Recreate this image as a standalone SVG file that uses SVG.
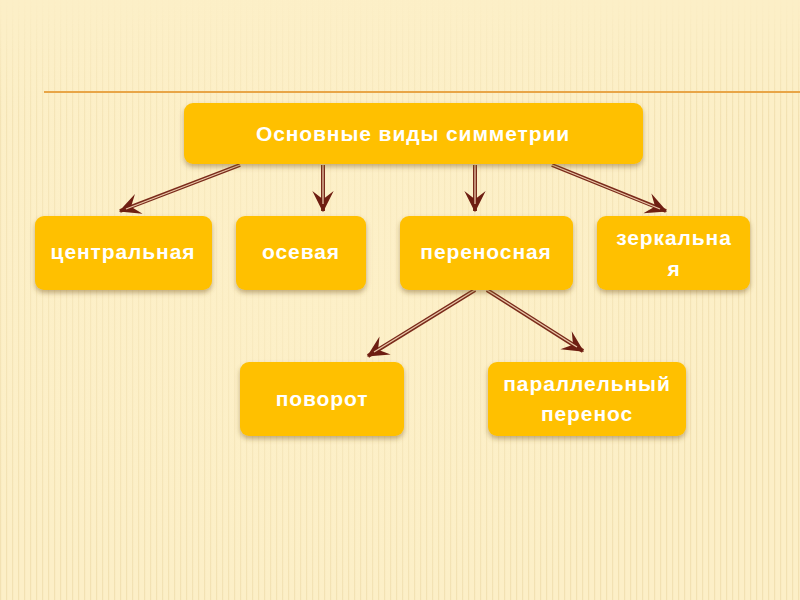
<svg xmlns="http://www.w3.org/2000/svg" width="800" height="600" viewBox="0 0 800 600">
<defs>
<style>
.box{fill:#FFC000;filter:url(#sh)}
.t{font-family:"Liberation Sans",Arial,sans-serif;font-weight:bold;font-size:21px;fill:#FFFFFF;text-anchor:middle;letter-spacing:0.9px}
.ao{fill:none;stroke:#7A2A1A;stroke-width:4}
.ai{fill:none;stroke:#E9C7A8;stroke-width:1.3}
</style>
<filter id="sh" x="-10%" y="-20%" width="120%" height="150%">
<feDropShadow dx="0" dy="3" stdDeviation="2.5" flood-color="#7A5A20" flood-opacity="0.45"/>
</filter>
<marker id="ah" markerUnits="userSpaceOnUse" markerWidth="26" markerHeight="26" viewBox="-20 -11 22 22" refX="0" refY="0" orient="auto">
<path d="M1,0 L-17,-9 L-10,0 L-17,9 Z" fill="#6E1E12"/>
</marker>
<pattern id="st" width="6" height="600" patternUnits="userSpaceOnUse">
<rect x="0" y="0" width="1.2" height="600" fill="#E8D5A0" opacity="0.55"/>
</pattern>
<linearGradient id="fade" x1="0" y1="0" x2="0" y2="1">
<stop offset="0" stop-color="#fff" stop-opacity="0"/>
<stop offset="0.2" stop-color="#fff" stop-opacity="1"/>
<stop offset="1" stop-color="#fff" stop-opacity="1"/>
</linearGradient>
<mask id="m"><rect x="0" y="0" width="800" height="600" fill="url(#fade)"/></mask>
<radialGradient id="glow" cx="0.4" cy="0.45" r="0.6">
<stop offset="0" stop-color="#FDF0C8" stop-opacity="0.8"/>
<stop offset="1" stop-color="#FDF0C8" stop-opacity="0"/>
</radialGradient>
</defs>
<rect width="800" height="600" fill="#FCEFC7"/>
<rect width="800" height="600" fill="url(#st)" mask="url(#m)"/>
<rect width="800" height="600" fill="url(#glow)"/>
<line x1="44" y1="92" x2="800" y2="92" stroke="#E8A547" stroke-width="2"/>
<g id="connectors">
<path class="ao" d="M240,165 L120,211" marker-end="url(#ah)"/><path class="ai" d="M240,165 L126,209"/>
<path class="ao" d="M323,165 L323,211" marker-end="url(#ah)"/><path class="ai" d="M323,165 L323,204"/>
<path class="ao" d="M475,165 L475,211" marker-end="url(#ah)"/><path class="ai" d="M475,165 L475,204"/>
<path class="ao" d="M552,165 L666,211" marker-end="url(#ah)"/><path class="ai" d="M552,165 L660,209"/>
<path class="ao" d="M475,290 L368,356" marker-end="url(#ah)"/><path class="ai" d="M475,290 L374,352"/>
<path class="ao" d="M487,290 L583,351" marker-end="url(#ah)"/><path class="ai" d="M487,290 L577,347"/>
</g>
<g id="root"><rect class="box" x="184" y="103" width="459" height="61" rx="9"/><text class="t" x="413" y="141">Основные виды симметрии</text></g>
<g id="central"><rect class="box" x="35" y="216" width="177" height="74" rx="9"/><text class="t" x="123" y="259">центральная</text></g>
<g id="axial"><rect class="box" x="236" y="216" width="130" height="74" rx="9"/><text class="t" x="301" y="259">осевая</text></g>
<g id="transl"><rect class="box" x="400" y="216" width="173" height="74" rx="9"/><text class="t" x="486" y="259">переносная</text></g>
<g id="mirror"><rect class="box" x="597" y="216" width="153" height="74" rx="9"/><text class="t" x="674" y="245">зеркальна</text><text class="t" x="674" y="276">я</text></g>
<g id="rot"><rect class="box" x="240" y="362" width="164" height="74" rx="9"/><text class="t" x="322" y="406">поворот</text></g>
<g id="par"><rect class="box" x="488" y="362" width="198" height="74" rx="9"/><text class="t" x="587" y="391">параллельный</text><text class="t" x="587" y="421">перенос</text></g>
</svg>
